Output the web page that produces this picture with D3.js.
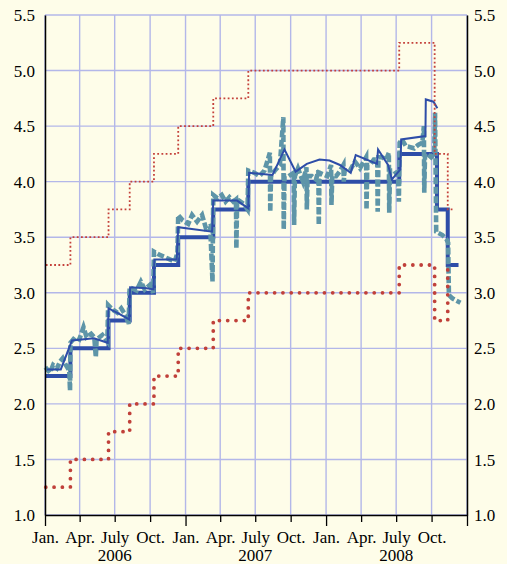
<!DOCTYPE html>
<html>
<head>
<meta charset="utf-8">
<script src="https://cdn.jsdelivr.net/npm/d3@7"></script>
<style>
  html, body { margin: 0; padding: 0; background: #fefde9; }
  #chart { width: 507px; height: 564px; }
  .axis text { font-family: "Liberation Serif", "Times New Roman", serif; font-size: 17px; fill: #000; }
</style>
</head>
<body>
<div id="chart"></div>
<script>
// tick labels
var monthLabels = ["Jan.", "Apr.", "July", "Oct."];
var yearLabels = ["2006", "2007", "2008"];
var yTicks = [1.0, 1.5, 2.0, 2.5, 3.0, 3.5, 4.0, 4.5, 5.0, 5.5];

// main refinancing rate (thick blue step)
var mroDates = ["2006-01-03", "2006-03-08", "2006-06-15", "2006-08-09", "2006-10-11", "2006-12-13",
	"2007-03-14", "2007-06-13", "2008-07-09", "2008-10-15", "2008-11-12", "2008-12-10"];
var mroValues = [2.25, 2.50, 2.75, 3.00, 3.25, 3.50, 3.75, 4.00, 4.25, 3.75, 3.25, 3.25];

// marginal lending rate (thin red dotted step)
var lendingDates = ["2006-01-03", "2006-03-08", "2006-06-15", "2006-08-09", "2006-10-11", "2006-12-13",
	"2007-03-14", "2007-06-13", "2008-07-09", "2008-10-09", "2008-11-12", "2008-11-26"];
var lendingValues = [3.25, 3.50, 3.75, 4.00, 4.25, 4.50, 4.75, 5.00, 5.25, 4.25, 3.75, 3.75];

// deposit rate (thick red dotted step)
var depositDates = ["2006-01-03", "2006-03-08", "2006-06-15", "2006-08-09", "2006-10-11", "2006-12-13",
	"2007-03-14", "2007-06-13", "2008-07-09", "2008-10-09", "2008-11-12"];
var depositValues = [1.25, 1.50, 1.75, 2.00, 2.25, 2.50, 2.75, 3.00, 3.25, 2.75, 3.25];

// marginal tender rate (thin blue line)
var tenderDates = ["2006-01-06", "2006-02-11", "2006-03-12", "2006-05-08", "2006-06-13", "2006-06-15",
	"2006-07-08", "2006-08-08", "2006-08-10", "2006-09-22", "2006-10-10", "2006-10-12", "2006-12-09",
	"2006-12-13", "2007-03-11", "2007-03-14", "2007-05-15", "2007-06-13", "2007-06-15", "2007-08-15",
	"2007-09-15", "2007-10-14", "2007-11-12", "2007-12-15", "2008-01-10", "2008-02-06", "2008-03-05",
	"2008-03-18", "2008-05-12", "2008-05-15", "2008-06-10", "2008-06-20", "2008-07-12", "2008-07-14",
	"2008-09-15", "2008-09-16", "2008-10-06", "2008-10-16"];
var tenderValues = [2.31, 2.31, 2.57, 2.59, 2.55, 2.86,
	2.82, 2.76, 3.05, 3.04, 3.03, 3.30, 3.30,
	3.59, 3.55, 3.83, 3.83, 3.76, 4.08, 4.06,
	4.29, 4.09, 4.16, 4.20, 4.19, 4.15, 4.08,
	4.24, 4.16, 4.29, 4.15, 4.02, 4.11, 4.38,
	4.41, 4.74, 4.72, 4.66];

// overnight rate (dashed teal)
var eoniaDates = ["2006-01-02", "2006-01-14", "2006-01-22", "2006-02-01", "2006-02-09", "2006-02-16",
	"2006-02-24", "2006-03-05", "2006-03-07", "2006-03-08", "2006-03-20", "2006-03-31", "2006-04-11",
	"2006-04-19", "2006-05-01", "2006-05-09", "2006-05-13", "2006-05-15", "2006-05-30", "2006-06-12",
	"2006-06-14", "2006-06-25", "2006-07-08", "2006-07-18", "2006-07-29", "2006-08-06", "2006-08-09",
	"2006-08-27", "2006-09-07", "2006-09-17", "2006-09-30", "2006-10-09", "2006-10-11", "2006-10-26",
	"2006-11-09", "2006-11-21", "2006-12-04", "2006-12-11", "2006-12-13", "2006-12-25", "2007-01-08",
	"2007-01-18", "2007-01-31", "2007-02-13", "2007-02-23", "2007-03-06", "2007-03-12", "2007-03-14",
	"2007-03-25", "2007-04-05", "2007-04-15", "2007-04-25", "2007-05-05", "2007-05-12", "2007-05-13",
	"2007-05-15", "2007-06-01", "2007-06-11", "2007-06-13", "2007-06-29", "2007-07-12", "2007-07-25",
	"2007-08-08", "2007-08-09", "2007-08-11", "2007-08-21", "2007-09-03", "2007-09-12", "2007-09-13",
	"2007-09-15", "2007-09-26", "2007-10-09", "2007-10-10", "2007-10-12", "2007-10-20", "2007-11-02",
	"2007-11-11", "2007-11-12", "2007-11-14", "2007-11-25", "2007-12-06", "2007-12-12", "2007-12-13",
	"2007-12-15", "2008-01-04", "2008-01-14", "2008-01-15", "2008-01-17", "2008-01-27", "2008-02-07",
	"2008-02-15", "2008-02-16", "2008-02-18", "2008-03-03", "2008-03-16", "2008-03-29", "2008-04-14",
	"2008-04-15", "2008-04-17", "2008-04-24", "2008-05-04", "2008-05-13", "2008-05-14", "2008-05-16",
	"2008-05-25", "2008-06-05", "2008-06-12", "2008-06-13", "2008-06-15", "2008-06-26", "2008-07-06",
	"2008-07-08", "2008-07-10", "2008-07-16", "2008-07-26", "2008-08-07", "2008-08-17", "2008-08-27",
	"2008-09-07", "2008-09-11", "2008-09-12", "2008-09-14", "2008-09-20", "2008-09-30", "2008-10-08",
	"2008-10-10", "2008-10-13", "2008-10-29", "2008-11-09", "2008-11-13", "2008-11-15", "2008-11-24",
	"2008-12-04", "2008-12-15"];
var eoniaValues = [2.33, 2.28, 2.35, 2.32, 2.38, 2.41,
	2.35, 2.30, 2.12, 2.55, 2.60, 2.58, 2.69,
	2.60, 2.63, 2.60, 2.42, 2.58, 2.62, 2.56,
	2.89, 2.85, 2.82, 2.86, 2.80, 2.72, 3.05,
	3.02, 3.10, 3.03, 3.07, 3.00, 3.37, 3.34,
	3.32, 3.30, 3.28, 3.36, 3.70, 3.65, 3.62,
	3.70, 3.64, 3.70, 3.58, 3.60, 3.10, 3.88,
	3.85, 3.88, 3.82, 3.86, 3.82, 3.84, 3.40,
	3.84, 3.80, 3.75, 4.10, 4.08, 4.05, 4.10,
	4.26, 3.73, 4.05, 4.10, 4.15, 4.58, 3.57,
	4.05, 4.05, 4.08, 3.61, 4.05, 4.12, 4.00,
	4.13, 3.75, 4.05, 4.05, 4.02, 4.10, 3.61,
	4.08, 4.05, 4.15, 3.79, 4.05, 4.05, 4.10,
	4.15, 4.00, 4.10, 4.10, 4.18, 4.12, 4.22,
	3.75, 4.15, 4.15, 4.20, 4.20, 3.73, 4.22,
	4.22, 4.20, 4.26, 3.72, 4.10, 4.10, 4.05,
	3.82, 4.35, 4.38, 4.32, 4.31, 4.30, 4.33,
	4.35, 4.50, 3.90, 4.25, 4.25, 4.22, 4.25,
	4.62, 3.55, 3.52, 3.48, 3.45, 2.98, 2.95,
	2.93, 2.91];

var parseDate = d3.timeParse("%Y-%m-%d");
function toPoints(dates, values) {
	return dates.map(function (d, i) {
		return { date: parseDate(d), value: values[i] };
	});
}

var serif = "'Liberation Serif', 'Times New Roman', serif";

var margin = { top: 15, right: 40, bottom: 49, left: 45 },
	width = 507 - margin.left - margin.right,
	height = 564 - margin.top - margin.bottom;

var svg = d3.select("#chart")
	.append("svg")
	.attr("width", 507)
	.attr("height", 564)
	.style("background", "#fefde9")
	.append("g")
	.attr("transform", "translate(" + margin.left + "," + margin.top + ")");

var x = d3.scaleTime()
	.domain([new Date(2006, 0, 1), new Date(2009, 0, 1)])
	.range([0, width]);

var y = d3.scaleLinear()
	.domain([1, 5.5])
	.range([height, 0]);

var quarters = d3.timeMonth.every(3).range(new Date(2006, 0, 1), new Date(2009, 0, 2));

// grid
var gridColor = "#b3b7e9";
svg.append("g")
	.selectAll("line")
	.data(yTicks)
	.enter().append("line")
	.attr("x1", 0)
	.attr("x2", width)
	.attr("y1", function (d) { return y(d); })
	.attr("y2", function (d) { return y(d); })
	.attr("stroke", gridColor)
	.attr("stroke-width", 1.4);

svg.append("g")
	.selectAll("line")
	.data(quarters)
	.enter().append("line")
	.attr("x1", function (d) { return x(d); })
	.attr("x2", function (d) { return x(d); })
	.attr("y1", 0)
	.attr("y2", height)
	.attr("stroke", gridColor)
	.attr("stroke-width", 1.4);

// series
var stepLine = d3.line()
	.curve(d3.curveStepAfter)
	.x(function (d) { return x(d.date); })
	.y(function (d) { return y(d.value); });

var plainLine = d3.line()
	.x(function (d) { return x(d.date); })
	.y(function (d) { return y(d.value); });

svg.append("path")
	.datum(toPoints(mroDates, mroValues))
	.attr("fill", "none")
	.attr("stroke", "#2e4da8")
	.attr("stroke-width", 4)
	.attr("d", stepLine);

svg.append("path")
	.datum(toPoints(eoniaDates, eoniaValues))
	.attr("fill", "none")
	.attr("stroke", "#5e95a8")
	.attr("stroke-width", 4.6)
	.attr("stroke-dasharray", "7,2.5")
	.attr("d", plainLine);

svg.append("path")
	.datum(toPoints(tenderDates, tenderValues))
	.attr("fill", "none")
	.attr("stroke", "#2e4da8")
	.attr("stroke-width", 2)
	.attr("d", plainLine);

svg.append("path")
	.datum(toPoints(lendingDates, lendingValues))
	.attr("fill", "none")
	.attr("stroke", "#c4403a")
	.attr("stroke-width", 1.8)
	.attr("stroke-dasharray", "1.8,2.4")
	.attr("d", stepLine);

svg.append("path")
	.datum(toPoints(depositDates, depositValues))
	.attr("fill", "none")
	.attr("stroke", "#c0403a")
	.attr("stroke-width", 3.8)
	.attr("stroke-linecap", "round")
	.attr("stroke-dasharray", "0,8.3")
	.attr("d", stepLine);

// axes
var xAxis = svg.append("g")
	.attr("class", "axis")
	.attr("transform", "translate(0," + height + ")")
	.call(d3.axisBottom(x)
		.tickValues(quarters)
		.tickSize(7)
		.tickSizeOuter(0)
		.tickFormat(function (d) {
			return d.getFullYear() < 2009 ? monthLabels[d.getMonth() / 3] : "";
		}))
	.attr("font-family", serif)
	.attr("font-size", 17);
xAxis.select(".domain").attr("stroke", "#000").attr("stroke-width", 1.3);
xAxis.selectAll(".tick line")
	.attr("stroke", "#000")
	.attr("stroke-width", 1.3)
	.attr("y2", function (d) { return d.getMonth() === 0 ? 11 : 7; });
xAxis.selectAll(".tick text")
	.attr("y", 28)
	.attr("dy", 0);

svg.append("g")
	.attr("class", "axis")
	.attr("font-family", serif)
	.attr("font-size", 17)
	.selectAll("text")
	.data(yearLabels)
	.enter().append("text")
	.attr("x", function (d) { return x(new Date(+d, 6, 1)); })
	.attr("y", height + 46)
	.attr("text-anchor", "middle")
	.text(function (d) { return d; });

var yLeft = svg.append("g")
	.attr("class", "axis")
	.call(d3.axisLeft(y)
		.tickValues(yTicks)
		.tickSize(0)
		.tickPadding(10)
		.tickFormat(d3.format(".1f")))
	.attr("font-family", serif)
	.attr("font-size", 17);
yLeft.select(".domain").attr("stroke", "#000").attr("stroke-width", 1.5);
yLeft.selectAll(".tick text").attr("dy", "0.33em");

var yRight = svg.append("g")
	.attr("class", "axis")
	.attr("transform", "translate(" + width + ",0)")
	.call(d3.axisRight(y)
		.tickValues(yTicks)
		.tickSize(0)
		.tickPadding(7)
		.tickFormat(d3.format(".1f")))
	.attr("font-family", serif)
	.attr("font-size", 17);
yRight.select(".domain").attr("stroke", "#000").attr("stroke-width", 1.5);
yRight.selectAll(".tick text").attr("dy", "0.33em");
</script>
</body>
</html>
